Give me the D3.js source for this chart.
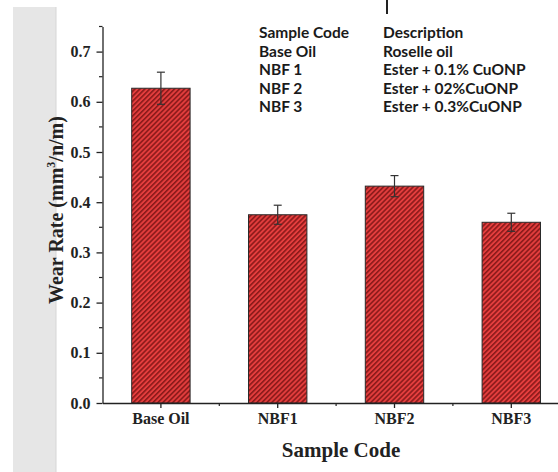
<!DOCTYPE html>
<html>
<head>
<meta charset="utf-8">
<script src="https://cdn.jsdelivr.net/npm/d3@7"></script>
<style>
  html, body { margin: 0; padding: 0; background: #fff; }
  svg { display: block; }
</style>
</head>
<body>
<script>
// Wear rate per sample with standard deviation
const categories = ["Base Oil", "NBF1", "NBF2", "NBF3"];
const wearRate = [0.627, 0.375, 0.432, 0.360];
const wearError = [0.032, 0.019, 0.021, 0.018];
const yTicks = [0.0, 0.1, 0.2, 0.3, 0.4, 0.5, 0.6, 0.7];
const legendCodes = ["Sample Code", "Base Oil", "NBF 1", "NBF 2", "NBF 3"];
const legendDescriptions = ["Description", "Roselle oil", "Ester + 0.1% CuONP", "Ester + 02%CuONP", "Ester + 0.3%CuONP"];

const W = 558, H = 472;
const svg = d3.select("body").append("svg").attr("width", W).attr("height", H);

// grey side strip
svg.append("rect").attr("x", 13).attr("y", 7).attr("width", 43).attr("height", H - 7)
  .attr("fill", "#e6e6e6");
svg.append("line").attr("x1", 56).attr("x2", 56).attr("y1", 7).attr("y2", H)
  .attr("stroke", "#d6d6d6").attr("stroke-width", 1);

// diagonal hatch fill
const defs = svg.append("defs");
const pat = defs.append("pattern").attr("id", "hatch")
  .attr("patternUnits", "userSpaceOnUse").attr("width", 3.5).attr("height", 3.5)
  .attr("patternTransform", "rotate(45)");
pat.append("rect").attr("width", 3.5).attr("height", 3.5).attr("fill", "#e43e3e");
pat.append("rect").attr("width", 1.6).attr("height", 3.5).attr("fill", "#8a1a1a");

const x0 = 102.5;
const x = d3.scaleBand().domain(categories).range([x0, x0 + 4 * 116.8]).paddingInner(0.5).paddingOuter(0.25);
const y = d3.scaleLinear().domain([0, 0.75]).range([403, 26.5]);

const serif = "'Liberation Serif', 'Times New Roman', serif";

// bars
svg.append("g").selectAll("rect").data(categories).join("rect")
  .attr("x", d => x(d)).attr("width", x.bandwidth())
  .attr("y", (d, i) => y(wearRate[i])).attr("height", (d, i) => y(0) - y(wearRate[i]))
  .attr("fill", "url(#hatch)").attr("stroke", "#2a2a2a").attr("stroke-width", 1);

// error bars
const eb = svg.append("g").attr("stroke", "#333").attr("stroke-width", 1.2);
categories.forEach((c, i) => {
  const cx = x(c) + x.bandwidth() / 2;
  const hi = y(wearRate[i] + wearError[i]), lo = y(wearRate[i] - wearError[i]);
  eb.append("line").attr("x1", cx).attr("x2", cx).attr("y1", hi).attr("y2", lo);
  eb.append("line").attr("x1", cx - 4).attr("x2", cx + 4).attr("y1", hi).attr("y2", hi);
  eb.append("line").attr("x1", cx - 4).attr("x2", cx + 4).attr("y1", lo).attr("y2", lo);
});

// y axis
const yAxis = svg.append("g").attr("transform", `translate(${x0},0)`)
  .call(d3.axisLeft(y).tickValues(yTicks).tickFormat(d3.format(".1f")).tickSize(6).tickSizeOuter(0).tickPadding(6));
yAxis.select(".domain").attr("stroke", "#222").attr("stroke-width", 1.3);
yAxis.selectAll(".tick line").attr("stroke", "#222").attr("stroke-width", 1.3);
yAxis.selectAll("text").attr("font-family", serif).attr("font-weight", "bold")
  .attr("font-size", 16).attr("fill", "#222");
// minor y ticks
svg.append("g").selectAll("line").data(d3.range(0.05, 0.8, 0.1)).join("line")
  .attr("x1", x0 - 3.5).attr("x2", x0).attr("y1", d => y(d)).attr("y2", d => y(d))
  .attr("stroke", "#222").attr("stroke-width", 1.2);

// x axis
const xAxis = svg.append("g").attr("transform", `translate(0,${y(0)})`)
  .call(d3.axisBottom(x).tickSize(5).tickSizeOuter(0).tickPadding(5));
xAxis.select(".domain").attr("stroke", "#222").attr("stroke-width", 1.3);
xAxis.selectAll(".tick line").attr("stroke", "#222").attr("stroke-width", 1.3);
xAxis.selectAll("text").attr("font-family", serif).attr("font-weight", "bold")
  .attr("font-size", 16).attr("fill", "#222");
// minor x ticks between categories
svg.append("g").selectAll("line").data(categories.slice(1)).join("line")
  .attr("x1", d => x(d) - x.step() * x.paddingInner() / 2 ).attr("x2", d => x(d) - x.step() * x.paddingInner() / 2)
  .attr("y1", y(0)).attr("y2", y(0) + 3)
  .attr("stroke", "#222").attr("stroke-width", 1.2);

// axis titles
svg.append("text").attr("x", 341).attr("y", 457)
  .attr("text-anchor", "middle").attr("font-family", serif).attr("font-weight", "bold")
  .attr("font-size", 21).attr("fill", "#222").text("Sample Code");

const yl = svg.append("text").attr("transform", "translate(63,210) rotate(-90)")
  .attr("text-anchor", "middle").attr("font-family", serif).attr("font-weight", "bold")
  .attr("font-size", 20).attr("fill", "#222");
yl.append("tspan").text("Wear Rate (mm");
yl.append("tspan").attr("font-size", 12).attr("dy", -8).text("3");
yl.append("tspan").attr("dy", 8).text("/n/m)");

// sample description table
const sans = "Lato, 'Open Sans', sans-serif";
const leg = svg.append("g").attr("font-family", sans).attr("font-weight", "bold")
  .attr("font-size", 15.5).attr("fill", "#1a1a1a");
leg.selectAll("text.code").data(legendCodes).join("text").attr("class", "code")
  .attr("x", 259).attr("y", (d, i) => 38 + i * 18.6).text(d => d);
leg.selectAll("text.desc").data(legendDescriptions).join("text").attr("class", "desc")
  .attr("x", 383).attr("y", (d, i) => 38 + i * 18.6).text(d => d);

// small stroke at top edge
svg.append("line").attr("x1", 387).attr("x2", 387).attr("y1", 0).attr("y2", 14)
  .attr("stroke", "#222").attr("stroke-width", 2);
</script>
</body>
</html>
